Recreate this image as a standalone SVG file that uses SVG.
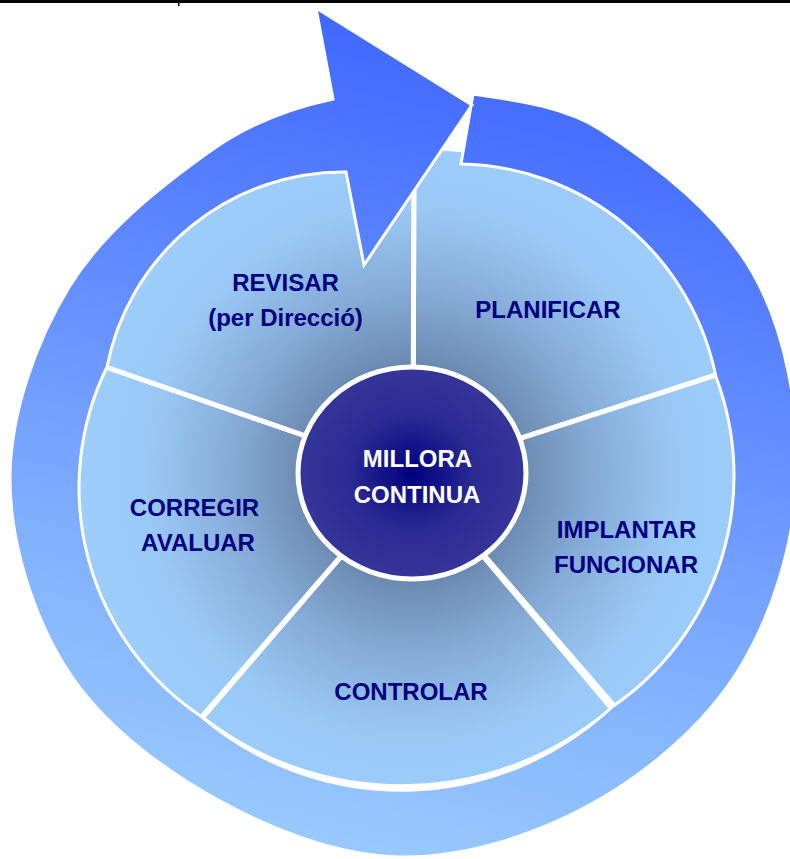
<svg xmlns="http://www.w3.org/2000/svg" width="790" height="859" viewBox="0 0 790 859">
  <defs>
    <radialGradient id="pieGrad" gradientUnits="userSpaceOnUse" cx="413" cy="473" r="330">
      <stop offset="0" stop-color="#3d5a85"/>
      <stop offset="0.33" stop-color="#6b8ab0"/>
      <stop offset="0.55" stop-color="#85abd6"/>
      <stop offset="0.8" stop-color="#99c8f5"/>
      <stop offset="1" stop-color="#9ccdfb"/>
    </radialGradient>
    <linearGradient id="ringGrad" gradientUnits="userSpaceOnUse" x1="520" y1="60" x2="330" y2="870">
      <stop offset="0" stop-color="#4068ff"/>
      <stop offset="0.4" stop-color="#6690ff"/>
      <stop offset="0.7" stop-color="#82b2fe"/>
      <stop offset="1" stop-color="#9accfc"/>
    </linearGradient>
    <radialGradient id="hubGrad" cx="0.5" cy="0.5" r="0.5">
      <stop offset="0" stop-color="#000080"/>
      <stop offset="0.55" stop-color="#2b2b94"/>
      <stop offset="1" stop-color="#353599"/>
    </radialGradient>
  </defs>
  <style>
    .seg { fill: url(#pieGrad); stroke: #ffffff; stroke-width: 5; stroke-linejoin: miter; }
    .lbl { font-family: "Liberation Sans", Arial, sans-serif; font-weight: bold; font-size: 24px; fill: #000080; text-anchor: middle; }
    .hubtxt { font-family: "Liberation Sans", Arial, sans-serif; font-weight: bold; font-size: 24px; fill: #ffffff; text-anchor: middle; }
  </style>

  <rect x="0" y="0" width="790" height="3" fill="#000000"/>
  <rect x="178" y="0" width="1.5" height="6" fill="#000000"/>

  <g id="planificar">
    <path class="seg" d="M 413,473 L 414,146 L 466,150 L 530,150 L 600,175 L 670,225 L 720,290 L 750,364 Z"/>
    <text class="lbl" x="548" y="318">PLANIFICAR</text>
  </g>
  <g id="implantar">
    <path class="seg" d="M 413,473 L 750,364 L 760,460 L 752,560 L 715,650 L 640,736 Z"/>
    <text class="lbl" x="626.5" y="538">IMPLANTAR</text>
    <text class="lbl" x="626" y="573">FUNCIONAR</text>
  </g>
  <g id="controlar">
    <path class="seg" d="M 413,473 L 612,709 A 324,324 0 0 1 202,718 Z"/>
    <text class="lbl" x="411" y="700">CONTROLAR</text>
  </g>
  <g id="corregir">
    <path class="seg" d="M 413,473 L 180,742 L 110,680 L 65,590 L 52,483 L 60,410 L 80,358 Z"/>
    <text class="lbl" x="194.5" y="516">CORREGIR</text>
    <text class="lbl" x="198" y="551">AVALUAR</text>
  </g>
  <g id="revisar">
    <path class="seg" d="M 413,473 L 80,358 L 110,280 L 160,220 L 240,170 L 330,140 L 414,125 Z"/>
    <text class="lbl" x="285.5" y="291">REVISAR</text>
    <text class="lbl" x="285.5" y="326">(per Direcció)</text>
  </g>

  <g id="connectors">
    <path fill="url(#ringGrad)" stroke="#ffffff" stroke-width="3" stroke-linejoin="miter" d="M 473,94 C 515.5,100.3 564.6,106.5 601,129.9 C 660.3,168 720.6,216 753.3,274 C 786,332 799.7,411.6 797,478 C 794.3,544.4 771.6,617.9 736.9,672.5 C 702.2,727.1 645.2,774.65 589,805.4 C 532.8,836.15 462.3,858.2 400,857 C 337.7,855.8 270.4,829.6 215,798.4 C 159.6,767.2 101.6,723.4 67.4,670 C 33.2,616.6 9.7,541.8 10,478 C 10.3,414.2 35.7,341.6 69.2,287 C 102.7,232.4 157.3,188.8 211,150.6 C 248.2,124.2 290.3,108.1 333,99 L 316,8 L 472,105 L 364,265 L 346,172 A 241,241 0 0 0 107,367 A 275,275 0 0 0 202,717 A 308,308 0 0 0 612,707 A 280,280 0 0 0 716,377 A 265,265 0 0 0 461,164 Z"/>
  </g>

  <g id="millora">
    <ellipse cx="412" cy="473" rx="114" ry="106" fill="url(#hubGrad)" stroke="#ffffff" stroke-width="5"/>
    <text class="hubtxt" x="417.5" y="467">MILLORA</text>
    <text class="hubtxt" x="417" y="503">CONTINUA</text>
  </g>
</svg>
